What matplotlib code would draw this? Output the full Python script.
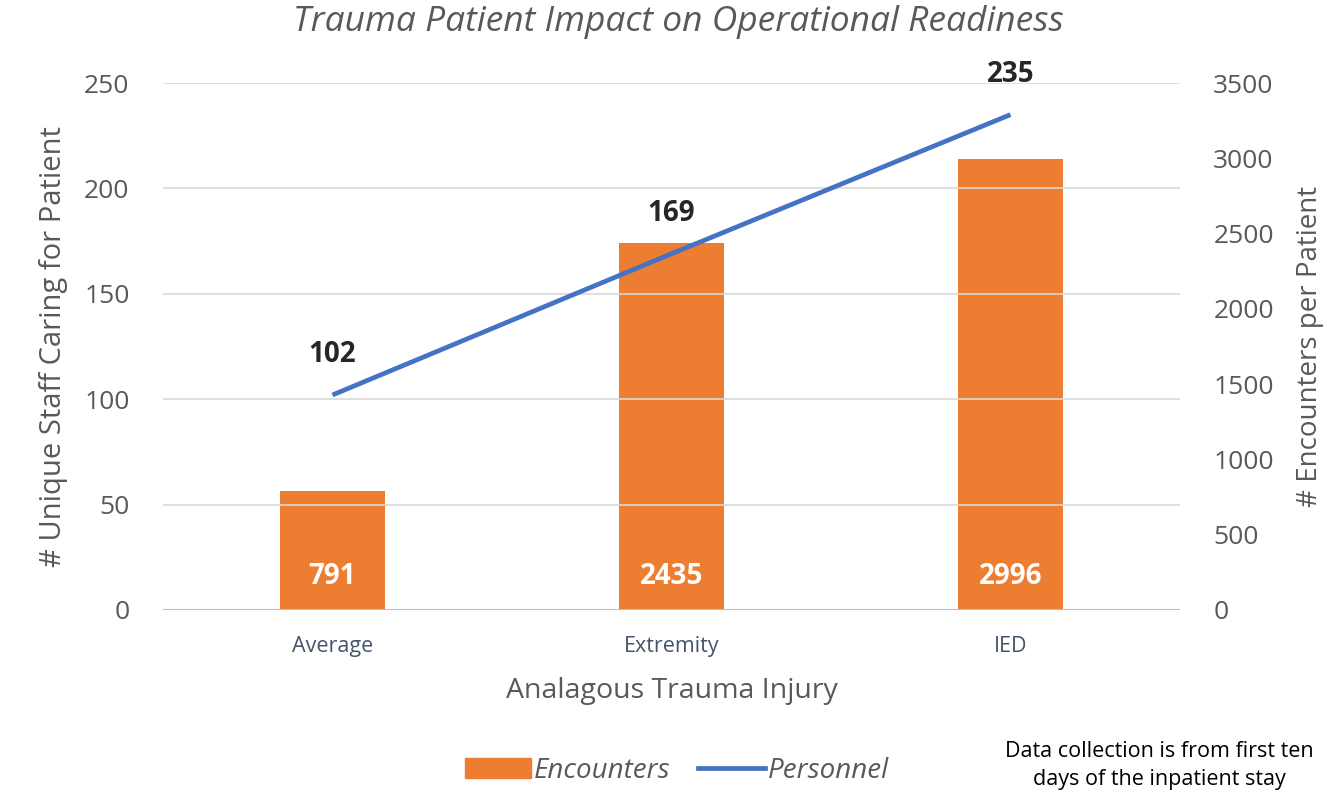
import numpy as np
import matplotlib.pyplot as plt
from matplotlib.patches import Patch
from matplotlib.lines import Line2D

categories = ['Average', 'Extremity', 'IED']
encounters = [791, 2435, 2996]
personnel = [102, 169, 235]

orange = '#ED7D31'
blue = '#4472C4'
gray = '#595959'

plt.rcParams['font.family'] = ['Open Sans', 'DejaVu Sans']

fig = plt.figure(figsize=(13.27, 7.92), dpi=100)
ax = fig.add_axes([0.1228, 0.2298, 0.7664, 0.6654])
ax2 = ax.twinx()

x = np.arange(len(categories))

# barras (eje derecho)
ax2.bar(x, encounters, width=0.31, color=orange, zorder=2)
for xi, v in zip(x, encounters):
    ax2.text(xi, 225, str(v), ha='center', va='center', color='white',
             fontsize=20, fontweight='bold')
ax2.set_ylim(0, 3500)
ax2.set_yticks(np.arange(0, 3501, 500))

# linea (eje izquierdo) - encima de las barras
ax.set_zorder(ax2.get_zorder() + 1)
ax.patch.set_visible(False)
ax.plot(x, personnel, color=blue, linewidth=3.4, solid_capstyle='butt', zorder=3)
for xi, v in zip(x, personnel):
    ax.text(xi, v + 19, str(v), ha='center', va='center', color='#262626',
            fontsize=20, fontweight='bold')
ax.set_ylim(0, 250)
ax.set_yticks(np.arange(0, 251, 50))
ax.set_xlim(-0.5, 2.5)
ax.set_xticks(x)
ax.set_xticklabels(categories)

ax.yaxis.grid(True, color='#d9d9d9', linewidth=1.2)
ax.set_axisbelow(True)
ax2.set_axisbelow(True)

for a in (ax, ax2):
    for s in a.spines.values():
        s.set_visible(False)
    a.tick_params(length=0, labelsize=19, labelcolor=gray)
ax.tick_params(axis='x', labelsize=15.5, labelcolor='#44546A', pad=19)
ax.tick_params(axis='y', pad=24)
ax2.tick_params(axis='y', pad=24)
ax.axhline(0, color='#bfbfbf', linewidth=1.5, zorder=1)

ax.set_ylabel('# Unique Staff Caring for Patient', fontsize=21, color=gray, labelpad=12)
ax2.set_ylabel('# Encounters per Patient', fontsize=20, color=gray, labelpad=16)
ax.set_xlabel('Analagous Trauma Injury', fontsize=20.5, color=gray, labelpad=14)

fig.text(0.511, 0.972, 'Trauma Patient Impact on Operational Readiness', ha='center',
         va='center', fontsize=25.5, style='italic', color=gray)

handles = [Patch(color=orange), Line2D([0], [0], color=blue, linewidth=3.4)]
fig.legend(handles, ['Encounters', 'Personnel'], loc='center', bbox_to_anchor=(0.51, 0.027),
           ncol=2, frameon=False, handlelength=2.4, columnspacing=1.0, handletextpad=0.1,
           prop={'style': 'italic', 'size': 20}, labelcolor=gray)

fig.text(0.8735, 0.033, 'Data collection is from first ten\ndays of the inpatient stay',
         ha='center', va='center', fontsize=15.5, color='black', linespacing=1.45)

fig.savefig('out.png', dpi=100, facecolor='white')
